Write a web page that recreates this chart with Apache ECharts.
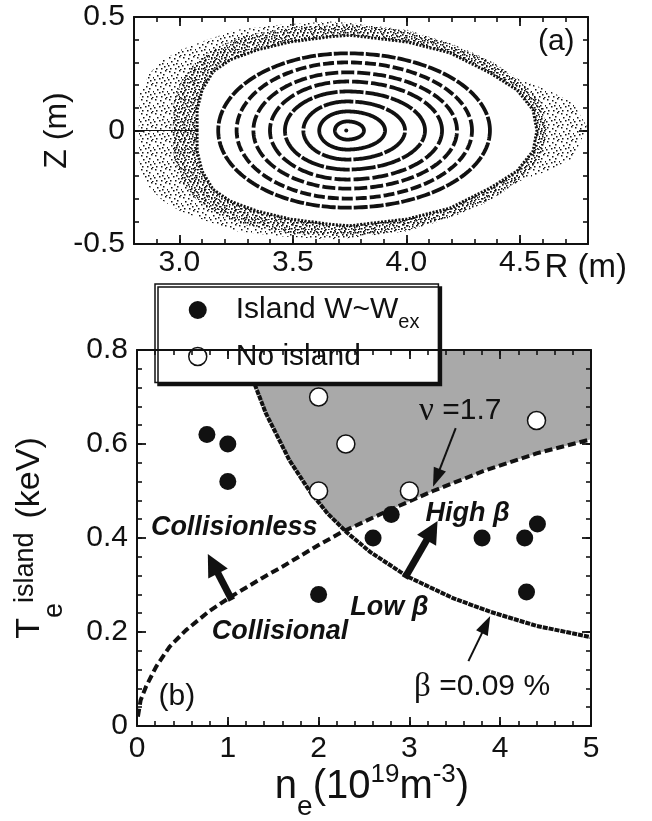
<!DOCTYPE html>
<html>
<head>
<meta charset="utf-8">
<script src="https://cdn.jsdelivr.net/npm/echarts@6/dist/echarts.min.js"></script>
<style>
html, body { margin: 0; padding: 0; background: #fff; }
#chart { width: 652px; height: 821px; }
</style>
</head>
<body>
<div id="chart"></div>
<script>
const FONT = '"Liberation Sans", Arial, Helvetica, sans-serif';
const SERIF = '"Liberation Serif", "DejaVu Serif", serif';
const INK = '#111';

// ---------------- (a) Poincaré plot, R-Z plane ----------------
const axisR = 3.74;                       // magnetic axis position (m)
const ringLeftR  = [3.685, 3.616, 3.546, 3.465, 3.399, 3.326, 3.252, 3.171];
const ringRightR = [3.813, 3.906, 3.994, 4.082, 4.157, 4.223, 4.289, 4.368];
const ringHalfZ  = [0.040, 0.084, 0.128, 0.172, 0.216, 0.256, 0.300, 0.340];
const ringDash   = [null, null, [30, 2], [24, 2], [16, 3], [13, 3], [11, 3], [14, 2]];

// stochastic layer, upper half (lower half is its mirror image)
const stochOuter = [[2.82, 0], [2.826, 0.166], [2.87, 0.254], [2.928, 0.311], [3.003, 0.355],
  [3.122, 0.40], [3.254, 0.444], [3.443, 0.466], [3.663, 0.48], [3.75, 0.474], [4.003, 0.444],
  [4.192, 0.386], [4.368, 0.311], [4.50, 0.223], [4.62, 0.18], [4.734, 0.122], [4.796, 0.016]];
const stochCore = [[2.97, 0], [2.975, 0.12], [3.01, 0.22], [3.07, 0.30], [3.17, 0.37], [3.30, 0.42],
  [3.50, 0.455], [3.75, 0.468], [4.0, 0.44], [4.19, 0.382], [4.37, 0.305], [4.50, 0.215],
  [4.59, 0.13], [4.62, 0]];
const stochInner = [[3.078, 0], [3.078, 0.091], [3.10, 0.179], [3.148, 0.259], [3.223, 0.311],
  [3.342, 0.355], [3.487, 0.39], [3.663, 0.413], [3.75, 0.42], [4.003, 0.39], [4.192, 0.342],
  [4.368, 0.254], [4.487, 0.179], [4.558, 0.091], [4.575, 0]];
const midplaneStreak = [[2.8, 0], [3.078, 0]];

const aTicksR = [3.0, 3.5, 4.0, 4.5], aLabelsR = ['3.0', '3.5', '4.0', '4.5'];
const aTicksZ = [-0.5, 0, 0.5],        aLabelsZ = ['-0.5', '0', '0.5'];

// ---------------- (b) island temperature vs density ----------------
const islandN   = [0.77, 1.0, 1.0, 2.0, 2.6, 2.8, 3.8, 4.27, 4.41, 4.29];
const islandT   = [0.62, 0.60, 0.52, 0.28, 0.40, 0.45, 0.40, 0.40, 0.43, 0.285];
const noIslandN = [2.0, 2.0, 2.3, 3.0, 4.4];
const noIslandT = [0.70, 0.50, 0.60, 0.50, 0.65];

// collisionality nu = 1.7
const nuN = [0.01, 0.04, 0.10, 0.21, 0.36, 0.54, 0.80, 1.05, 1.38, 1.60, 2.00, 2.26, 2.74, 3.26, 3.85, 4.40, 5.00];
const nuT = [0.02, 0.055, 0.084, 0.126, 0.169, 0.204, 0.245, 0.277, 0.315, 0.339, 0.385, 0.413, 0.456, 0.500, 0.545, 0.580, 0.610];
// beta = 0.09 %
const betaN = [1.18, 1.27, 1.42, 1.68, 1.90, 2.10, 2.31, 2.57, 2.90, 3.00, 3.48, 3.89, 4.40, 5.00];
const betaT = [0.80, 0.74, 0.665, 0.565, 0.50, 0.452, 0.412, 0.37, 0.328, 0.316, 0.272, 0.243, 0.213, 0.189];
const crossing = [2.285, 0.416];          // where the two curves meet

const bTicksN = [0, 1, 2, 3, 4, 5],            bLabelsN = ['0', '1', '2', '3', '4', '5'];
const bTicksT = [0, 0.2, 0.4, 0.6, 0.8],       bLabelsT = ['0', '0.2', '0.4', '0.6', '0.8'];

const noteText = ['{g|ν} =1.7', '{g|β} =0.09 %', '(b)', 'Collisionless', 'Collisional', 'High β', 'Low β'];
const noteN    = [3.56, 3.80, 0.44, 1.07, 1.575, 3.64, 2.78];
const noteT    = [0.67, 0.083, 0.062, 0.423, 0.20, 0.453, 0.253];
const noteBold = [0, 0, 0, 1, 1, 1, 1];

const arrowFrom  = [[3.51, 0.634], [3.65, 0.138], [1.045, 0.268], [2.95, 0.315]];
const arrowTo    = [[3.26, 0.509], [3.89, 0.234], [0.78, 0.366], [3.31, 0.436]];
const arrowHeavy = [0, 0, 1, 1];

const ISLAND = 'Island W~Wex';
const NOISLAND = 'No island';

// ---------------- helpers ----------------
function stipple(size, dots, s) {
  const c = document.createElement('canvas');
  c.width = c.height = size;
  const g = c.getContext('2d');
  g.fillStyle = INK;
  dots.forEach(([x, y]) => g.fillRect(x, y, s, s));
  return { image: c, repeat: 'repeat' };
}
const sparseFill = stipple(14, [[1,1],[6,2],[11,0],[3,5],[9,4],[13,7],[0,9],[5,8],[10,10],[2,12],[7,12],[12,13],[8,7]], 1.5);
const denseFill = stipple(10, [[0,1],[4,0],[7,2],[2,4],[6,5],[9,6],[1,8],[4,7],[8,9],[3,2],[5,9]], 1.6);

function mirrored(half) {
  return half.concat(half.slice(1, -1).reverse().map(([r, z]) => [r, -z]));
}

function labelFor(ticks, labels) {
  return v => {
    const i = ticks.findIndex(t => Math.abs(t - v) < 1e-6);
    return i >= 0 ? labels[i] : '';
  };
}

// four axes per dimension: minor + major ticks on both sides of the frame
function axisSet(kind, grid, min, max, majors, minorStep, fmt, labelMargin, nameOpts) {
  const sides = kind === 'x' ? ['bottom', 'top'] : ['left', 'right'];
  const list = [];
  sides.forEach((side, k) => {
    list.push({
      type: 'value', gridIndex: grid, position: side, min, max, interval: minorStep, z: 5,
      splitLine: { show: false },
      axisLine: { show: true, onZero: false, lineStyle: { color: INK, width: 2 } },
      axisTick: { show: true, inside: true, length: 5, lineStyle: { color: INK, width: 1.6 } },
      axisLabel: { show: false }
    });
    const major = {
      type: 'value', gridIndex: grid, position: side, min, max, z: 5,
      nameMoveOverlap: false,
      splitLine: { show: false },
      axisLine: { show: false, onZero: false },
      axisTick: { show: true, inside: true, length: 9, customValues: majors, lineStyle: { color: INK, width: 1.8 } },
      axisLabel: k === 0 ? {
        show: true, customValues: majors, formatter: fmt, margin: labelMargin,
        fontFamily: FONT, fontSize: 30, color: INK
      } : { show: false }
    };
    if (k === 0 && nameOpts) Object.assign(major, nameOpts);
    list.push(major);
  });
  return list;
}

function polygonSeries(pts, style, xi, z) {
  return {
    type: 'custom', xAxisIndex: xi, yAxisIndex: xi, z, silent: true, data: pts,
    renderItem(params, api) {
      if (params.dataIndex !== 0) return null;
      return { type: 'polygon', shape: { points: pts.map(p => api.coord(p)) }, style };
    }
  };
}

function ringItem(params, api) {
  const l = api.value(0), r = api.value(1), hz = api.value(2);
  const c = api.coord([axisR, 0]);
  const pl = api.coord([l, 0]), pr = api.coord([r, 0]), pt = api.coord([axisR, hz]);
  const rxL = c[0] - pl[0], rxR = pr[0] - c[0], ry = c[1] - pt[1];
  const pts = [];
  for (let k = 0; k <= 240; k++) {
    const a = k / 240 * 2 * Math.PI, cs = Math.cos(a), sn = Math.sin(a);
    pts.push([c[0] + (cs >= 0 ? rxR : rxL) * cs, c[1] - ry * sn]);
  }
  const dash = ringDash[params.dataIndex];
  return {
    type: 'polyline', shape: { points: pts },
    style: { stroke: INK, lineWidth: 3.8, fill: null, lineDash: dash || null }
  };
}

function arrowItem(params, api) {
  const i = params.dataIndex;
  const p1 = api.coord(arrowFrom[i]), p2 = api.coord(arrowTo[i]);
  const dx = p2[0] - p1[0], dy = p2[1] - p1[1], len = Math.hypot(dx, dy);
  const ux = dx / len, uy = dy / len, nx = -uy, ny = ux;
  const heavy = arrowHeavy[i] === 1;
  const hl = heavy ? 22 : 19, hw = heavy ? 11 : 6.5, sw = heavy ? 7 : 2;
  const bx = p2[0] - ux * hl, by = p2[1] - uy * hl;
  return {
    type: 'group', children: [
      { type: 'line', shape: { x1: p1[0], y1: p1[1], x2: bx + ux * 2, y2: by + uy * 2 },
        style: { stroke: INK, lineWidth: sw } },
      { type: 'polygon', shape: { points: [[p2[0], p2[1]], [bx + nx * hw, by + ny * hw], [bx - nx * hw, by - ny * hw]] },
        style: { fill: INK } }
    ]
  };
}

function noteItem(params, api) {
  const i = params.dataIndex;
  const p = api.coord([api.value(0), api.value(1)]);
  const bold = noteBold[i] === 1;
  return {
    type: 'text', x: p[0], y: p[1],
    style: {
      text: noteText[i], align: 'center', verticalAlign: 'middle', fill: INK,
      fontFamily: FONT, fontSize: bold ? 27 : 30,
      fontWeight: bold ? 'bold' : 'normal', fontStyle: bold ? 'italic' : 'normal',
      rich: { g: { fontFamily: SERIF, fontSize: 33, fill: INK } }
    }
  };
}

// ---------------- (b) shaded region above both limits ----------------
const shadePts = []
  .concat(betaN.map((n, i) => [n, betaT[i]]).filter(p => p[0] < crossing[0]))
  .concat([crossing])
  .concat(nuN.map((n, i) => [n, nuT[i]]).filter(p => p[0] > crossing[0]))
  .concat([[5, 0.8]]);

const axisNameRich = (main, sub, sup, L, pt) => ({
  m: { fontSize: main, lineHeight: L, verticalAlign: 'middle' },
  k: { fontSize: main, lineHeight: L, verticalAlign: 'middle', padding: [0, 0, 0, 14] },
  s: { fontSize: sub, lineHeight: sub, verticalAlign: 'bottom' },
  p: { fontSize: sup, lineHeight: sup, verticalAlign: 'top', padding: [pt, 0, 0, 0] }
});

const xAxes = []
  .concat(axisSet('x', 0, 2.8, 4.8, aTicksR, 0.1, labelFor(aTicksR, aLabelsR), 4, {
    name: 'R (m)', nameLocation: 'end', nameGap: 39,
    nameTextStyle: { fontFamily: FONT, fontSize: 33, color: INK, align: 'right', verticalAlign: 'top', lineHeight: 34, padding: [7, 0, 0, 0] }
  }))
  .concat(axisSet('x', 1, 0, 5, bTicksN, 0.2, labelFor(bTicksN, bLabelsN), 8, {
    name: '{m|n}{s|e}{m|(10}{p|19}{m|m}{p|-3}{m|)}', nameLocation: 'middle', nameGap: 27,
    nameTextStyle: { fontFamily: FONT, fontSize: 40, color: INK, padding: [0, 0, 0, 16], rich: axisNameRich(40, 28, 26, 68, 9) }
  }));

const yAxes = []
  .concat(axisSet('y', 0, -0.5, 0.5, aTicksZ, 0.1, labelFor(aTicksZ, aLabelsZ), 9, {
    name: 'Z (m)', nameLocation: 'middle', nameGap: 61,
    nameTextStyle: { fontFamily: FONT, fontSize: 32, color: INK, lineHeight: 32 }
  }))
  .concat(axisSet('y', 1, 0, 0.8, bTicksT, 0.04, labelFor(bTicksT, bLabelsT), 9, {
    name: '{m|T}{s|e}{p|island}{k|(keV)}', nameLocation: 'middle', nameGap: 69,
    nameTextStyle: { fontFamily: FONT, fontSize: 34, color: INK, rich: axisNameRich(34, 27, 27, 76, 20) }
  }));

const option = {
  animation: false,
  backgroundColor: '#fff',
  textStyle: { fontFamily: FONT },
  grid: [
    { left: 134, top: 17, width: 454, height: 227, containLabel: false, outerBoundsMode: 'none' },
    { left: 137, top: 350, width: 454, height: 376, containLabel: false, outerBoundsMode: 'none' }
  ],
  xAxis: xAxes,
  yAxis: yAxes,
  legend: {
    left: 155, top: 284, orient: 'vertical', selectedMode: false,
    padding: [11, 19, 11, 33], itemWidth: 18, itemHeight: 18, itemGap: 9,
    backgroundColor: '#fff', borderColor: INK, borderWidth: 1.5,
    shadowColor: INK, shadowBlur: 0, shadowOffsetX: 3, shadowOffsetY: 3,
    textStyle: {
      fontFamily: FONT, fontSize: 30, color: INK,
      rich: {
        m: { fontSize: 30, lineHeight: 45, verticalAlign: 'middle', padding: [0, 0, 0, 24] },
        s: { fontSize: 20, lineHeight: 14, verticalAlign: 'bottom' }
      }
    },
    formatter: name => name === ISLAND ? '{m|Island W~W}{s|ex}' : '{m|' + name + '}',
    data: [
      { name: ISLAND, icon: 'circle', itemStyle: { color: INK, opacity: 1 } },
      { name: NOISLAND, icon: 'circle', itemStyle: { color: '#fff', borderColor: INK, borderWidth: 1.5, opacity: 1 } }
    ]
  },
  series: [
    // ---- panel (a) ----
    polygonSeries(mirrored(stochOuter), { fill: sparseFill, stroke: null }, 0, 1),
    polygonSeries(mirrored(stochCore), { fill: denseFill, stroke: null }, 0, 1),
    polygonSeries(mirrored(stochInner), { fill: '#fff', stroke: INK, lineWidth: 3, lineDash: [2, 1.5] }, 0, 1),
    {
      type: 'line', xAxisIndex: 0, yAxisIndex: 0, z: 2, silent: true, showSymbol: false,
      data: midplaneStreak, lineStyle: { color: INK, width: 1.2 }
    },
    {
      type: 'custom', xAxisIndex: 0, yAxisIndex: 0, z: 2, silent: true,
      data: ringLeftR.map((l, i) => [l, ringRightR[i], ringHalfZ[i]]),
      encode: { x: [0, 1], y: 2 },
      renderItem: ringItem
    },
    {
      type: 'scatter', xAxisIndex: 0, yAxisIndex: 0, z: 3, silent: true,
      data: [[3.735, 0]], symbolSize: 4, itemStyle: { color: INK, opacity: 1 }
    },
    {
      type: 'custom', xAxisIndex: 0, yAxisIndex: 0, z: 6, silent: true,
      data: [[4.66, 0.389]],
      renderItem(params, api) {
        const p = api.coord([api.value(0), api.value(1)]);
        return { type: 'text', x: p[0], y: p[1], style: { text: '(a)', align: 'center', verticalAlign: 'middle', fontFamily: FONT, fontSize: 30, fill: INK } };
      }
    },
    // ---- panel (b) ----
    polygonSeries(shadePts, { fill: '#a9a9a9', stroke: null }, 4, 1),
    {
      type: 'line', xAxisIndex: 4, yAxisIndex: 4, z: 3, silent: true, showSymbol: false,
      data: nuN.map((n, i) => [n, nuT[i]]),
      lineStyle: { color: INK, width: 4, type: [8, 4] }
    },
    {
      type: 'line', xAxisIndex: 4, yAxisIndex: 4, z: 3, silent: true, showSymbol: false,
      data: betaN.map((n, i) => [n, betaT[i]]),
      lineStyle: { color: INK, width: 4, type: [5, 1] }
    },
    {
      name: ISLAND, type: 'scatter', xAxisIndex: 4, yAxisIndex: 4, z: 4,
      data: islandN.map((n, i) => [n, islandT[i]]),
      symbol: 'circle', symbolSize: 17, itemStyle: { color: INK, opacity: 1 }
    },
    {
      name: NOISLAND, type: 'scatter', xAxisIndex: 4, yAxisIndex: 4, z: 4,
      data: noIslandN.map((n, i) => [n, noIslandT[i]]),
      symbol: 'circle', symbolSize: 18, itemStyle: { color: '#fff', borderColor: INK, borderWidth: 1.5, opacity: 1 }
    },
    {
      type: 'custom', xAxisIndex: 4, yAxisIndex: 4, z: 5, silent: true,
      data: arrowFrom.map((p, i) => [p[0], p[1], arrowTo[i][0], arrowTo[i][1]]),
      encode: { x: [0, 2], y: [1, 3] },
      renderItem: arrowItem
    },
    {
      type: 'custom', xAxisIndex: 4, yAxisIndex: 4, z: 5, silent: true,
      data: noteN.map((n, i) => [n, noteT[i]]),
      renderItem: noteItem
    }
  ]
};

const chart = echarts.init(document.getElementById('chart'));
chart.setOption(option);
</script>
</body>
</html>
